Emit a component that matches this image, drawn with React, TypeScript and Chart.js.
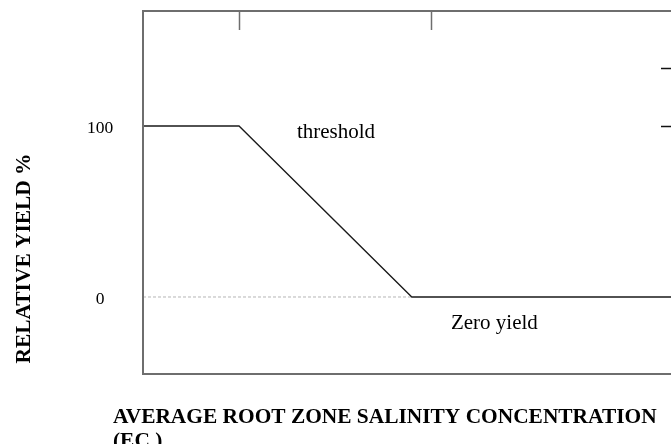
import React, { useEffect, useRef } from "react";
import { Chart, registerables } from "chart.js";

Chart.register(...registerables);

// Salinity (x) vs relative yield (y)
const curveX = [0, 2, 5.6, 11];
const curveY = [100, 100, 0, 0];
const zeroRefX = [0, 5.6];
const zeroRefY = [0, 0];
const topTickValues = [2, 6];
const rightTickValues = [100, 134];
const yTickLabels = ["100", "0"];
const yTickValues = [100, 0];
const annotationTexts = ["threshold", "Zero yield"];
const annotationX = [4.02, 7.32];
const annotationY = [93, -19];
const xTitleLines = ["AVERAGE ROOT ZONE SALINITY CONCENTRATION", "(EC )"];
const yTitle = "RELATIVE YIELD %";

const SERIF = '"Liberation Serif", "Times New Roman", serif';

const framePlugin = {
  id: "frameAndText",
  afterDatasetsDraw(chart: any) {
    const { ctx, chartArea: a, scales } = chart;
    const xs = scales.x;
    const ys = scales.y;
    ctx.save();
    // frame
    ctx.strokeStyle = "#6e6e6e";
    ctx.lineWidth = 2;
    ctx.beginPath();
    ctx.moveTo(a.right + 2, a.top);
    ctx.lineTo(a.left, a.top);
    ctx.lineTo(a.left, a.bottom);
    ctx.lineTo(a.right + 2, a.bottom);
    ctx.stroke();
    // top ticks
    ctx.lineWidth = 1.5;
    topTickValues.forEach((v) => {
      const px = Math.round(xs.getPixelForValue(v)) + 0.5;
      ctx.beginPath();
      ctx.moveTo(px, a.top);
      ctx.lineTo(px, a.top + 19);
      ctx.stroke();
    });
    // right ticks
    ctx.strokeStyle = "#111";
    ctx.lineWidth = 1.5;
    rightTickValues.forEach((v) => {
      const py = Math.round(ys.getPixelForValue(v)) + 0.5;
      ctx.beginPath();
      ctx.moveTo(a.right - 10, py);
      ctx.lineTo(a.right, py);
      ctx.stroke();
    });
    // y tick labels
    ctx.fillStyle = "#000";
    ctx.font = `17.5px ${SERIF}`;
    ctx.textAlign = "center";
    ctx.textBaseline = "middle";
    yTickValues.forEach((v, i) => {
      ctx.fillText(yTickLabels[i], a.left - 43, ys.getPixelForValue(v) + 2);
    });
    // annotations
    ctx.font = `21px ${SERIF}`;
    ctx.textBaseline = "alphabetic";
    annotationTexts.forEach((t, i) => {
      ctx.fillText(t, xs.getPixelForValue(annotationX[i]), ys.getPixelForValue(annotationY[i]));
    });
    // x title
    ctx.font = `bold 21.4px ${SERIF}`;
    ctx.textAlign = "left";
    xTitleLines.forEach((t, i) => {
      ctx.fillText(t, a.left - 30, a.bottom + 49 + i * 24);
    });
    // y title
    ctx.translate(30, (a.top + a.bottom) / 2 + 66);
    ctx.rotate(-Math.PI / 2);
    ctx.textAlign = "center";
    ctx.fillText(yTitle, 0, 0);
    ctx.restore();
  },
};

export default function App() {
  const ref = useRef<HTMLCanvasElement>(null);
  useEffect(() => {
    document.body.style.margin = "0";
    const chart = new Chart(ref.current!, {
      type: "line",
      data: {
        datasets: [
          {
            data: zeroRefX.map((x, i) => ({ x, y: zeroRefY[i] })),
            borderColor: "#b5b5b5",
            borderWidth: 1,
            borderDash: [3, 2],
            pointRadius: 0,
            order: 2,
          },
          {
            data: curveX.map((x, i) => ({ x, y: curveY[i] })),
            borderColor: "#1a1a1a",
            borderWidth: 1.3,
            pointRadius: 0,
            tension: 0,
            order: 1,
          },
        ],
      },
      options: {
        responsive: false,
        animation: false,
        layout: { padding: { left: 143, right: 0, top: 11, bottom: 70 } },
        plugins: { legend: { display: false }, tooltip: { enabled: false } },
        scales: {
          x: { type: "linear", min: 0, max: 11, display: false },
          y: { type: "linear", min: -45.03, max: 167.25, display: false },
        },
      },
      plugins: [framePlugin],
    });
    return () => chart.destroy();
  }, []);
  return (
    <div style={{ position: "fixed", left: 0, top: 0, width: 671, height: 444, background: "#fff" }}>
      <canvas ref={ref} width={671} height={444} />
    </div>
  );
}
